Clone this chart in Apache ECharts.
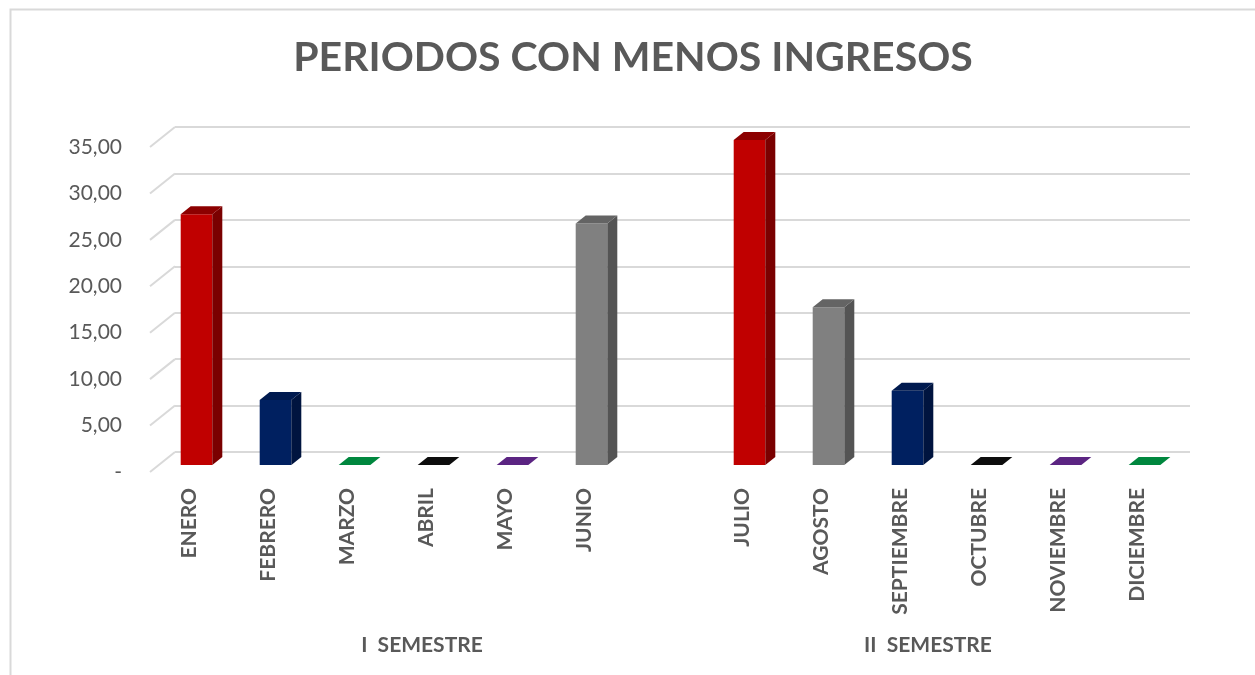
<!DOCTYPE html>
<html>
<head>
<meta charset="utf-8">
<script src="https://cdn.jsdelivr.net/npm/echarts@6/dist/echarts.min.js"></script>
<style>html,body{margin:0;padding:0;background:#fff}#c{width:1255px;height:675px}</style>
</head>
<body>
<div id="c"></div>
<script>
// ---- data ----
const categories = ['ENERO','FEBRERO','MARZO','ABRIL','MAYO','JUNIO','','JULIO','AGOSTO','SEPTIEMBRE','OCTUBRE','NOVIEMBRE','DICIEMBRE'];
const values = [27, 7, 0, 0, 0, 26, null, 35, 17, 8, 0, 0, 0];
const yTicks = [0, 5, 10, 15, 20, 25, 30, 35];
const semesters = ['I  SEMESTRE', 'II  SEMESTRE'];
const titleText = 'PERIODOS CON MENOS INGRESOS';

// ---- styles ----
const RED = ['#C00000', '#7a0000', '#8c0000'];
const NAVY = ['#002060', '#00143f', '#001a4f'];
const GRAY = ['#808080', '#545454', '#646464'];
const GREEN = ['#00873E', '#005a29', '#00873E'];
const BLACK = ['#0d0d0d', '#000000', '#0d0d0d'];
const PURPLE = ['#5B2482', '#3a1555', '#5B2482'];
const barColors = [RED, NAVY, GREEN, BLACK, PURPLE, GRAY, GRAY, RED, GRAY, NAVY, BLACK, PURPLE, GREEN];
const txt = '#595959';
const gridCol = '#d9d9d9';
const DX = 10, DY = -8;

const chart = echarts.init(document.getElementById('c'), null, {renderer: 'canvas'});

function renderBar(params, api) {
  const idx = api.value(0), v = api.value(1);
  if (v === null || isNaN(v)) return;
  const top = api.coord([idx, v]);
  const base = api.coord([idx, 0]);
  const bw = api.size([1, 0])[0] * 0.4;
  const x0 = top[0] - bw / 2, x1 = top[0] + bw / 2;
  const c = barColors[idx];
  const ch = [];
  if (base[1] - top[1] > 0.5) {
    ch.push({type: 'rect', shape: {x: x0, y: top[1], width: bw, height: base[1] - top[1]}, style: {fill: c[0]}});
    ch.push({type: 'polygon', shape: {points: [[x1, top[1]], [x1 + DX, top[1] + DY], [x1 + DX, base[1] + DY], [x1, base[1]]]}, style: {fill: c[1]}});
    ch.push({type: 'polygon', shape: {points: [[x0, top[1]], [x0 + DX, top[1] + DY], [x1 + DX, top[1] + DY], [x1, top[1]]]}, style: {fill: c[2]}});
  } else {
    ch.push({type: 'polygon', shape: {points: [[x0, top[1]], [x0 + DX, top[1] + DY], [x1 + DX, top[1] + DY], [x1, top[1]]]}, style: {fill: c[0]}});
  }
  return {type: 'group', children: ch};
}

function renderConnector(params, api) {
  const p = api.coord([0, api.value(0)]);
  return {type: 'line', shape: {x1: p[0], y1: p[1], x2: p[0] + 25, y2: p[1] - 20}, style: {stroke: gridCol, lineWidth: 2}};
}

const yBase = {type: 'value', min: 0, max: 35, interval: 5};

const option = {
  backgroundColor: '#fff',
  animation: false,
  textStyle: {fontFamily: 'Lato'},
  grid: [
    {left: 157, width: 1027, top: 140, height: 325},   // bars (mid depth)
    {left: 175, right: 65, top: 127, height: 325},      // back wall
    {left: 150, width: 1027, top: 147, height: 325}     // front plane (labels)
  ],
  xAxis: [
    {type: 'category', gridIndex: 0, data: categories, show: false},
    {type: 'category', gridIndex: 1, data: categories, show: false},
    {type: 'category', gridIndex: 2, data: categories,
      axisLine: {show: false}, axisTick: {show: false},
      axisLabel: {rotate: 90, margin: 16, interval: 0, color: txt, fontSize: 21, fontWeight: 'bold', fontFamily: 'Lato'}},
    {type: 'value', gridIndex: 2, min: 0, max: 1, show: false, position: 'top'}
  ],
  yAxis: [
    Object.assign({gridIndex: 0, show: false}, yBase),
    Object.assign({gridIndex: 1, axisLabel: {show: false}, axisLine: {show: false}, axisTick: {show: false},
      splitLine: {show: true, lineStyle: {color: gridCol, width: 2}}}, yBase),
    Object.assign({gridIndex: 2, axisLine: {show: false}, axisTick: {show: false}, splitLine: {show: false},
      axisLabel: {margin: 28, color: txt, fontSize: 21, fontFamily: 'Lato',
        formatter: v => v === 0 ? '-' : v.toFixed(2).replace('.', ',')}}, yBase)
  ],
  series: [
    {type: 'custom', xAxisIndex: 3, yAxisIndex: 2, renderItem: renderConnector, data: yTicks.map(t => [t]), encode: {y: 0}, silent: true, z: 1},
    {type: 'custom', xAxisIndex: 0, yAxisIndex: 0, renderItem: renderBar, data: values.map((v, i) => [i, v]), silent: true, z: 5}
  ],
  graphic: [
    {type: 'rect', left: 8, top: 7, shape: {width: 1260, height: 700}, style: {fill: 'none', stroke: '#d9d9d9', lineWidth: 2}, z: 100},
    {type: 'text', x: 633, y: 58, style: {text: titleText, fill: txt, font: 'bold 41px Lato', textAlign: 'center', textVerticalAlign: 'middle'}},
    {type: 'text', x: 422, y: 645, style: {text: semesters[0], fill: txt, font: 'bold 21px Lato', textAlign: 'center', textVerticalAlign: 'middle'}},
    {type: 'text', x: 928, y: 645, style: {text: semesters[1], fill: txt, font: 'bold 21px Lato', textAlign: 'center', textVerticalAlign: 'middle'}}
  ]
};
chart.setOption(option);
</script>
</body>
</html>
